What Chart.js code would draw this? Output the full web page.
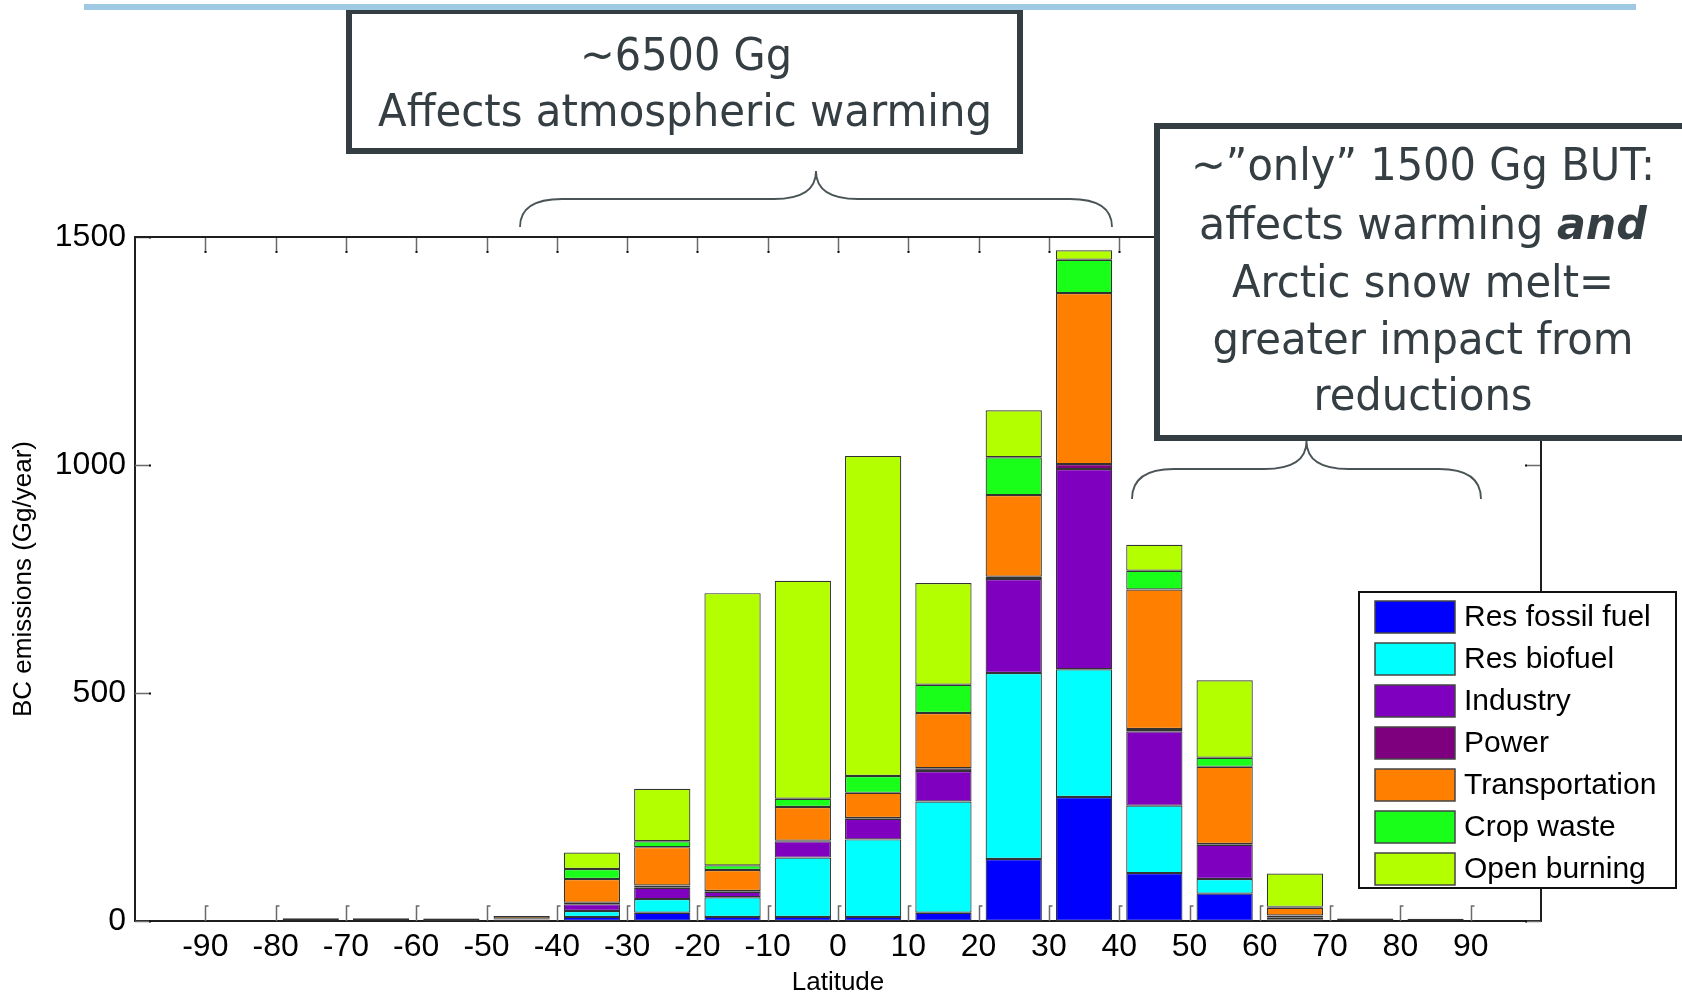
<!DOCTYPE html>
<html>
<head>
<meta charset="utf-8">
<title>BC emissions by latitude</title>
<script src="https://cdn.jsdelivr.net/npm/chart.js@4/dist/chart.umd.min.js"></script>
<style>
  html, body { margin: 0; padding: 0; background: #fff; }
  #chart { display: block; }
</style>
</head>
<body>
<canvas id="chart" width="1682" height="993"></canvas>
<script>
// latitude bin centres (10 degree bins)
const latitudes = [-85, -75, -65, -55, -45, -35, -25, -15, -5, 5, 15, 25, 35, 45, 55, 65, 75, 85];

// BC emissions per sector (Gg/year)
const resFossilFuel = [0, 1, 1, 5, 3, 9, 18, 9, 9, 9, 18, 136, 272, 105, 60, 4, 1, 1];
const resBiofuel    = [0, 0, 0, 1, 1, 13, 30, 43, 130, 170, 244, 408, 280, 148, 32, 3, 4, 0];
const industry      = [0, 0, 0, 0, 1, 15, 25, 12, 36, 45, 67, 206, 439, 163, 75, 4, 0, 0];
const power         = [0, 0, 0, 0, 0, 3, 5, 2, 1, 2, 6, 5, 11, 5, 2, 1, 0, 0];
const transport     = [0, 5, 5, 0, 6, 52, 84, 46, 74, 55, 121, 179, 375, 306, 169, 17, 1, 4];
const cropWaste     = [0, 0, 0, 0, 0, 22, 13, 10, 18, 37, 62, 83, 73, 41, 20, 2, 0, 0];
const openBurning   = [0, 0, 0, 0, 0, 36, 115, 597, 478, 702, 223, 103, 21, 57, 170, 73, 0, 0];

const sectorNames = ['Res fossil fuel', 'Res biofuel', 'Industry', 'Power', 'Transportation', 'Crop waste', 'Open burning'];
const sectorColors = ['#0000ff', '#00ffff', '#7f00bf', '#7f007f', '#ff8000', '#1aff1a', '#b3ff00'];
const sectorValues = [resFossilFuel, resBiofuel, industry, power, transport, cropWaste, openBurning];

const yTicks = [0, 500, 1000, 1500];
const xTickLats = [-90, -80, -70, -60, -50, -40, -30, -20, -10, 0, 10, 20, 30, 40, 50, 60, 70, 80, 90];

// annotation texts
const leftNote = ['~6500 Gg', 'Affects atmospheric warming'];
const rightNote = ['~\u201donly\u201d 1500 Gg BUT:', 'affects warming |and', 'Arctic snow melt=', 'greater impact from', 'reductions'];

const datasets = sectorNames.map((name, i) => ({
  label: name,
  data: latitudes.map((lat, j) => ({ x: lat, y: sectorValues[i][j] })),
  backgroundColor: sectorColors[i],
  borderColor: '#333',
  borderWidth: 1.2,
  borderSkipped: false,
  barPercentage: 0.8,
  categoryPercentage: 1.0
}));

const noteFont = '"DejaVu Sans", Verdana, sans-serif';
const axisFont = '"Liberation Sans", Arial, Helvetica, sans-serif';

// draw text squeezed/stretched to a given width, centred on cx
function fitText(ctx, parts, cx, y, width) {
  let total = 0;
  parts.forEach(p => { ctx.font = p.font; p.w = ctx.measureText(p.text).width; total += p.w; });
  ctx.save();
  ctx.translate(cx - width / 2, y);
  ctx.scale(width / total, 1);
  let x = 0;
  parts.forEach(p => { ctx.font = p.font; ctx.fillText(p.text, x, 0); x += p.w; });
  ctx.restore();
}

function brace(ctx, x1, x2, yEnd, yH, yTip) {
  const xm = (x1 + x2) / 2;
  const r = 42;
  ctx.beginPath();
  ctx.moveTo(x1, yEnd);
  ctx.quadraticCurveTo(x1, yH, x1 + r, yH);
  ctx.lineTo(xm - r, yH);
  ctx.quadraticCurveTo(xm, yH, xm, yTip);
  ctx.quadraticCurveTo(xm, yH, xm + r, yH);
  ctx.lineTo(x2 - r, yH);
  ctx.quadraticCurveTo(x2, yH, x2, yEnd);
  ctx.stroke();
}

const overlay = {
  id: 'overlay',
  afterDraw(chart) {
    const ctx = chart.ctx;
    const area = chart.chartArea;
    const xs = chart.scales.x, ys = chart.scales.y;
    ctx.save();

    // inward ticks, top and bottom
    ctx.strokeStyle = '#6a6a6a';
    ctx.lineWidth = 1.5;
    xTickLats.forEach(lat => {
      const px = Math.round(xs.getPixelForValue(lat)) + 0.5;
      ctx.beginPath();
      ctx.moveTo(px, area.bottom); ctx.lineTo(px, area.bottom - 15); ctx.lineTo(px + 3, area.bottom - 15);
      ctx.moveTo(px, area.top); ctx.lineTo(px, area.top + 15);
      ctx.stroke();
      ctx.fillStyle = '#111';
      ctx.fillRect(px - 1, area.top + 14, 2, 2);
    });
    yTicks.forEach(v => {
      const py = Math.round(ys.getPixelForValue(v)) + 0.5;
      ctx.beginPath();
      ctx.moveTo(area.left, py); ctx.lineTo(area.left + 15, py);
      ctx.moveTo(area.right, py); ctx.lineTo(area.right - 15, py);
      ctx.stroke();
      ctx.fillStyle = '#111';
      ctx.fillRect(area.left + 14, py - 1, 2, 2);
      ctx.fillRect(area.right - 16, py - 1, 2, 2);
    });

    // top and right frame
    ctx.strokeStyle = '#1e1e1e';
    ctx.lineWidth = 2;
    ctx.beginPath();
    ctx.moveTo(area.left, area.top); ctx.lineTo(area.right, area.top); ctx.lineTo(area.right, area.bottom);
    ctx.stroke();

    // legend
    const lx = 1359, ly = 592, lw = 317, lh = 296;
    ctx.fillStyle = '#fff';
    ctx.fillRect(lx, ly, lw, lh);
    ctx.strokeStyle = '#111';
    ctx.lineWidth = 2;
    ctx.strokeRect(lx, ly, lw, lh);
    chart.data.datasets.forEach((ds, i) => {
      const cy = 617 + i * 42;
      ctx.fillStyle = ds.backgroundColor;
      ctx.fillRect(1375, cy - 16, 80, 32);
      ctx.strokeStyle = '#444';
      ctx.lineWidth = 1.5;
      ctx.strokeRect(1375, cy - 16, 80, 32);
      ctx.fillStyle = '#000';
      ctx.font = '30px ' + axisFont;
      ctx.textAlign = 'left';
      ctx.textBaseline = 'middle';
      ctx.fillText(ds.label, 1464, cy + 1);
    });

    // note boxes
    ctx.strokeStyle = '#343d41';
    ctx.lineWidth = 6;
    ctx.fillStyle = '#fff';
    ctx.fillRect(349, 11, 671, 140);
    ctx.strokeRect(349, 11, 671, 140);
    ctx.fillRect(1157, 126, 540, 312);
    ctx.strokeRect(1157, 126, 540, 312);

    ctx.fillStyle = '#353e42';
    ctx.textBaseline = 'alphabetic';
    ctx.textAlign = 'left';
    const nf = '45px ' + noteFont;
    const nfb = 'italic bold 45px ' + noteFont;
    fitText(ctx, [{ text: leftNote[0], font: nf }], 686, 70, 212);
    fitText(ctx, [{ text: leftNote[1], font: nf }], 685, 126, 614);
    const widths = [464, 448, 382, 421, 219];
    const bases = [180, 239, 297, 354, 410];
    rightNote.forEach((line, i) => {
      const parts = line.split('|').map((t, k) => ({ text: t, font: k === 0 ? nf : nfb }));
      fitText(ctx, parts, 1423, bases[i], widths[i]);
    });

    // braces
    ctx.strokeStyle = '#4a5356';
    ctx.lineWidth = 1.8;
    brace(ctx, 520, 1112, 227, 199, 171);
    brace(ctx, 1132, 1481, 499, 469, 441);

    // slide rule at top
    ctx.fillStyle = '#9ecbe3';
    ctx.fillRect(84, 4, 1552, 6);

    ctx.restore();
  }
};

new Chart(document.getElementById('chart'), {
  type: 'bar',
  data: { datasets },
  plugins: [overlay],
  options: {
    responsive: false,
    animation: false,
    devicePixelRatio: 1,
    layout: { padding: { left: 0, right: 141, top: 237, bottom: 0 } },
    plugins: { legend: { display: false }, tooltip: { enabled: false } },
    scales: {
      x: {
        type: 'linear',
        min: -100,
        max: 100,
        offset: false,
        stacked: true,
        grid: { display: false, drawTicks: false },
        border: { display: true, color: '#1e1e1e', width: 2 },
        ticks: {
          stepSize: 10,
          autoSkip: false,
          maxRotation: 0,
          padding: 7,
          color: '#000',
          font: { family: axisFont, size: 32 },
          callback: v => (Math.abs(v) === 100 ? '' : String(v))
        },
        title: {
          display: true,
          text: 'Latitude',
          color: '#000',
          font: { family: axisFont, size: 26, lineHeight: 1 },
          padding: { top: 0, bottom: -3 }
        },
        afterFit: s => { s.height = 72; }
      },
      y: {
        min: 0,
        max: 1500,
        stacked: true,
        grid: { display: false, drawTicks: false },
        border: { display: true, color: '#1e1e1e', width: 2 },
        ticks: {
          stepSize: 500,
          padding: 9,
          color: '#000',
          font: { family: axisFont, size: 32 },
          callback: v => String(v)
        },
        title: {
          display: true,
          text: 'BC emissions (Gg/year)',
          color: '#000',
          font: { family: axisFont, size: 26, lineHeight: 1 },
          padding: { top: 11, bottom: 0 }
        },
        afterFit: s => { s.width = 135; }
      }
    }
  }
});
</script>
</body>
</html>
